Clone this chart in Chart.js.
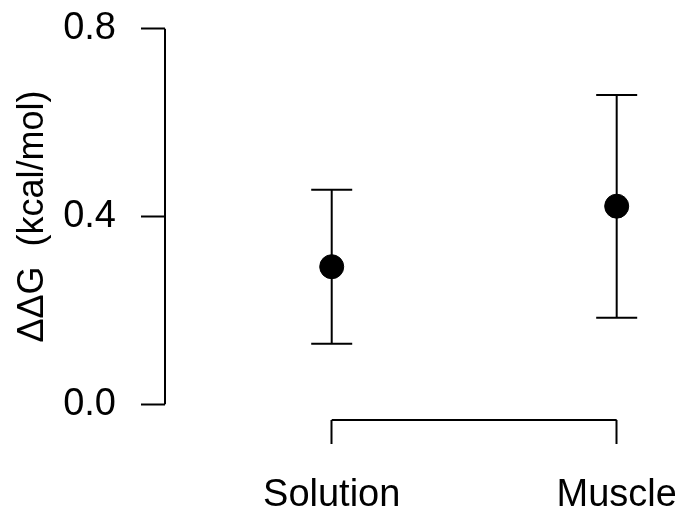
<!DOCTYPE html>
<html>
<head>
<meta charset="utf-8">
<script src="https://cdn.jsdelivr.net/npm/chart.js@4"></script>
<style>
  html, body { margin: 0; padding: 0; background: #fff; }
  #wrap { width: 675px; height: 510px; }
</style>
</head>
<body>
<div id="wrap"><canvas id="ddgChart"></canvas></div>
<script>
// data
const categories = ['Solution', 'Muscle'];
const positions = [1, 2];
const means = [0.293, 0.422];
const lower = [0.129, 0.184];
const upper = [0.457, 0.659];
const yTicks = [0.0, 0.4, 0.8];

const FONT = '"Liberation Sans", Arial, Helvetica, sans-serif';

// R style axes: lines only span the tick range, plus error bars
const rAxes = {
  id: 'rAxes',
  beforeDatasetsDraw(chart) {
    const ctx = chart.ctx;
    const x = chart.scales.x;
    const y = chart.scales.y;
    ctx.save();
    ctx.strokeStyle = '#000';
    ctx.lineWidth = 2;
    ctx.lineCap = 'butt';

    // y axis line
    ctx.beginPath();
    ctx.moveTo(chart.chartArea.left, y.getPixelForValue(yTicks[0]));
    ctx.lineTo(chart.chartArea.left, y.getPixelForValue(yTicks[yTicks.length - 1]));
    ctx.stroke();

    // x axis line
    ctx.beginPath();
    ctx.moveTo(x.getPixelForValue(positions[0]), chart.chartArea.bottom);
    ctx.lineTo(x.getPixelForValue(positions[positions.length - 1]), chart.chartArea.bottom);
    ctx.stroke();

    // error bars
    const cap = 20.5;
    positions.forEach((p, i) => {
      const px = x.getPixelForValue(p);
      const lo = y.getPixelForValue(lower[i]);
      const hi = y.getPixelForValue(upper[i]);
      ctx.beginPath();
      ctx.moveTo(px, lo);
      ctx.lineTo(px, hi);
      ctx.moveTo(px - cap, lo);
      ctx.lineTo(px + cap, lo);
      ctx.moveTo(px - cap, hi);
      ctx.lineTo(px + cap, hi);
      ctx.stroke();
    });
    ctx.restore();
  }
};

// drop the extra room chart.js keeps for edge labels
function noEdgePadding(scale) {
  scale.paddingTop = 0;
  scale.paddingBottom = 0;
  scale.paddingLeft = 0;
  scale.paddingRight = 0;
}

new Chart(document.getElementById('ddgChart'), {
  type: 'scatter',
  data: {
    datasets: [{
      data: positions.map((p, i) => ({ x: p, y: means[i] })),
      backgroundColor: '#000',
      borderColor: '#000',
      pointRadius: 12,
      pointHoverRadius: 12,
      clip: false
    }]
  },
  options: {
    responsive: true,
    maintainAspectRatio: false,
    animation: false,
    layout: { padding: 0 },
    plugins: {
      legend: { display: false },
      tooltip: { enabled: false }
    },
    scales: {
      x: {
        type: 'linear',
        min: 0.415,
        max: 2.159,
        afterBuildTicks: function(scale) {
          scale.ticks = positions.map(v => ({ value: v }));
        },
        afterFit: function(scale) {
          scale.height = 90;
          noEdgePadding(scale);
        },
        grid: {
          drawOnChartArea: false,
          tickLength: 24,
          tickWidth: 2,
          tickColor: '#000'
        },
        border: { display: false },
        ticks: {
          color: '#000',
          padding: 29,
          maxRotation: 0,
          font: { family: FONT, size: 38 },
          callback: function(value) {
            const i = positions.indexOf(value);
            return i >= 0 ? categories[i] : '';
          }
        }
      },
      y: {
        min: -0.0337,
        max: 0.8337,
        afterBuildTicks: function(scale) {
          scale.ticks = yTicks.map(v => ({ value: v }));
        },
        afterFit: function(scale) {
          scale.width = 165;
          noEdgePadding(scale);
        },
        grid: {
          drawOnChartArea: false,
          tickLength: 24,
          tickWidth: 2,
          tickColor: '#000'
        },
        border: { display: false },
        ticks: {
          color: '#000',
          padding: 25,
          font: { family: FONT, size: 38 },
          callback: function(value) {
            return value.toFixed(1);
          }
        },
        title: {
          display: true,
          text: 'ΔΔG  (kcal/mol)',
          color: '#000',
          padding: { top: 11, bottom: 0 },
          font: { family: FONT, size: 36 }
        }
      }
    }
  },
  plugins: [rAxes]
});
</script>
</body>
</html>
